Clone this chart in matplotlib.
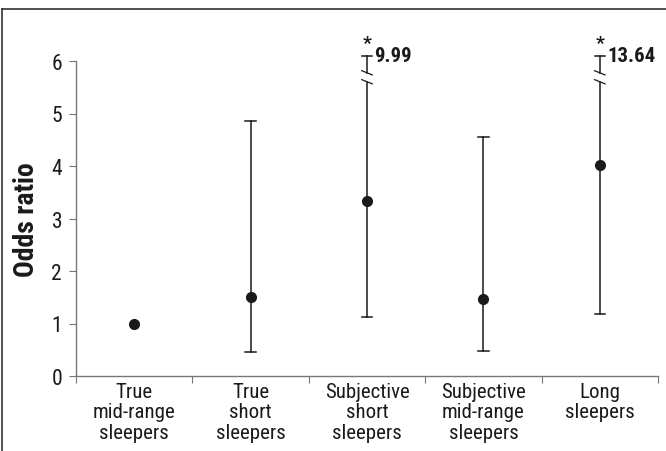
import numpy as np
import matplotlib.pyplot as plt
from matplotlib.lines import Line2D

plt.rcParams['font.family'] = ['Roboto Condensed', 'Liberation Sans', 'DejaVu Sans']

labels = ['True\nmid-range\nsleepers', 'True\nshort\nsleepers', 'Subjective\nshort\nsleepers',
          'Subjective\nmid-range\nsleepers', 'Long\nsleepers']
odds = [1.0, 1.5, 3.33, 1.47, 4.02]
lower = [np.nan, 0.46, 1.12, 0.48, 1.18]
upper = [np.nan, 4.86, 9.99, 4.55, 13.64]
yticks = [0, 1, 2, 3, 4, 5, 6]

col = '#1a1a1a'
gray = '#777777'

fig = plt.figure(figsize=(6.66, 4.52), dpi=100)
ax = fig.add_axes([76/666, 75/452, 582/666, 315/452])

x = np.arange(1, len(odds) + 1)
ymax = 6
cap_top = 6.1     # where a clipped bar is drawn to
brk_lo, brk_hi = 5.6, 5.77
capw = 0.045

for xi, o, lo, hi in zip(x, odds, lower, upper):
    if not np.isnan(lo):
        if hi <= ymax:
            ax.plot([xi, xi], [lo, hi], color=col, lw=1.1)
            ax.plot([xi - capw, xi + capw], [hi, hi], color=col, lw=1.1)
        else:
            ax.plot([xi, xi], [lo, brk_lo], color=col, lw=1.1)
            ax.plot([xi, xi], [brk_hi, cap_top], color=col, lw=1.1, clip_on=False)
            ax.plot([xi - capw, xi + capw], [cap_top, cap_top], color=col, lw=1.1, clip_on=False)
            for b in (brk_lo, brk_hi):
                ax.plot([xi - 0.045, xi + 0.045], [b + 0.045, b - 0.035], color=col, lw=0.9)
            ax.text(xi, cap_top + 0.07, '*', ha='center', va='bottom', fontsize=14,
                    fontweight='bold', color=col)
            ax.text(xi + 0.065, cap_top, '%.2f' % hi, ha='left', va='center', fontsize=15,
                    fontweight='bold', color=col)
        ax.plot([xi - capw, xi + capw], [lo, lo], color=col, lw=1.1)
    ax.plot(xi, o, 'o', color=col, ms=7, zorder=3)

ax.set_xlim(0.5, len(odds) + 0.5)
ax.set_ylim(0, ymax)
ax.set_yticks(yticks)
ax.set_xticks(np.arange(0.5, len(odds) + 1, 1))
ax.set_xticklabels([])
ax.set_xticks(x, minor=True)
ax.set_xticklabels(labels, minor=True, fontsize=15, color=col, linespacing=1.12)
ax.tick_params(axis='x', which='minor', length=0, pad=4)
ax.tick_params(axis='x', which='major', length=5, color=gray, direction='out')
ax.tick_params(axis='y', length=5, color=gray, labelsize=15.5, labelcolor=col, pad=5)
for s in ['top', 'right']:
    ax.spines[s].set_visible(False)
for s in ['left', 'bottom']:
    ax.spines[s].set_color(gray)
    ax.spines[s].set_linewidth(1)
ax.set_ylabel('Odds ratio', fontsize=20, fontweight='bold', color=col, labelpad=8)

# outer frame
fig.add_artist(Line2D([1.5/666, 1], [1 - 10/452, 1 - 10/452], color='#333333', lw=1.2))
fig.add_artist(Line2D([1.5/666, 1.5/666], [0, 1 - 10/452], color='#333333', lw=1.2))

fig.savefig('out.png', dpi=100)
